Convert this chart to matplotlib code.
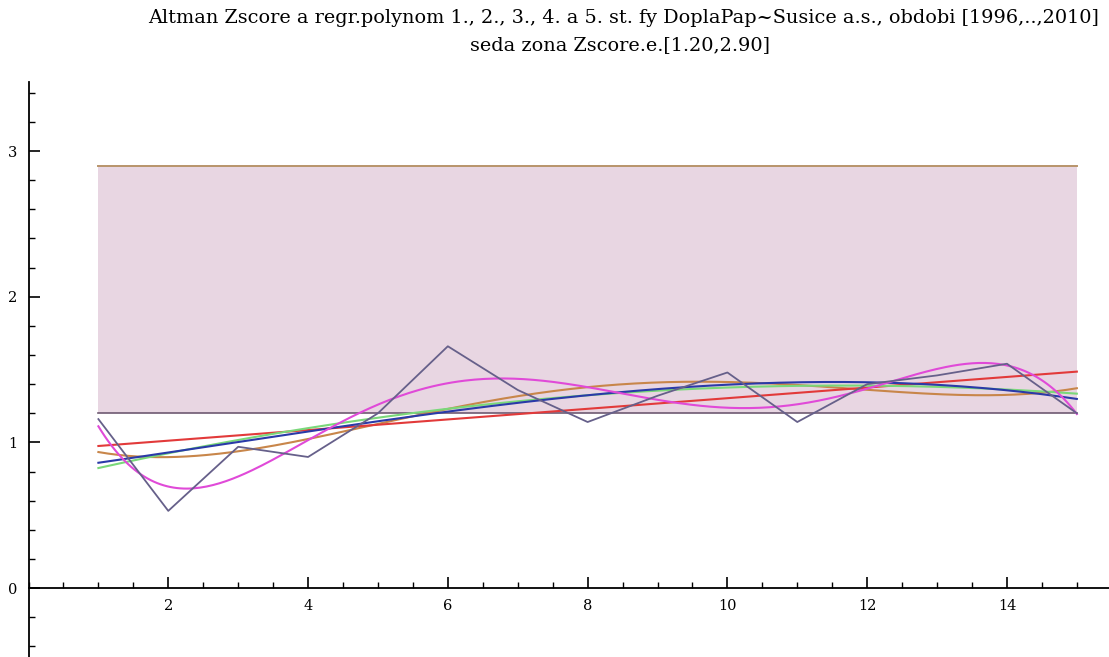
import numpy as np
import matplotlib.pyplot as plt
from matplotlib.ticker import MultipleLocator

# Altman Z-score, years 1996..2010 indexed 1..15
years_idx = np.arange(1, 16)
zscore = [1.16, 0.53, 0.97, 0.90, 1.20, 1.66, 1.36, 1.14,
          1.32, 1.48, 1.14, 1.40, 1.46, 1.54, 1.20]

grey_zone = (1.20, 2.90)
# drawing order of the regression polynomials (lowest first)
degrees = [4, 1, 2, 3, 5]
fit_colors = ['#c8864a', '#e23a3a', '#7ad87a', '#2a3aa8', '#e04ad8']

title1 = ('Altman Zscore a regr.polynom 1., 2., 3., 4. a 5. st. '
          'fy DoplaPap~Susice a.s., obdobi [1996,..,2010]')
title2 = 'seda zona Zscore.e.[1.20,2.90]'


def main():
    W, H = 1109, 657
    fig = plt.figure(figsize=(W / 100, H / 100), dpi=100)
    ax = fig.add_axes([28.5 / W, 0, 1 - 28.5 / W, 1 - 82 / H])

    ax.set_xlim(0, 15.46)
    ax.set_ylim(-0.473, 3.474)

    # grey zone band
    ax.fill_between([1, 15], grey_zone[0], grey_zone[1],
                    color='#e8d6e2', lw=0, zorder=1)
    ax.plot([1, 15], [grey_zone[1]] * 2, color='#b8946a', lw=1.4, zorder=2)
    ax.plot([1, 15], [grey_zone[0]] * 2, color='#6e5a72', lw=1.2, zorder=2)

    xs = np.linspace(1, 15, 300)
    for deg, col in zip(degrees, fit_colors):
        coef = np.polyfit(years_idx, zscore, deg)
        ax.plot(xs, np.polyval(coef, xs), color=col, lw=1.5, zorder=3)

    ax.plot(years_idx, zscore, color='#66608a', lw=1.3, zorder=4)

    # Mathematica-like axes crossing at the origin
    for s in ['top', 'right']:
        ax.spines[s].set_visible(False)
    ax.spines['left'].set_position(('data', 0))
    ax.spines['bottom'].set_position(('data', 0))
    ax.spines['left'].set_linewidth(1.3)
    ax.spines['bottom'].set_linewidth(1.3)

    ax.xaxis.set_minor_locator(MultipleLocator(0.5))
    ax.yaxis.set_minor_locator(MultipleLocator(0.2))
    ax.set_xticks([2, 4, 6, 8, 10, 12, 14])
    ax.set_yticks([0, 1, 2, 3])

    ax.tick_params(which='major', direction='in', length=8, width=1.2,
                   labelsize=10.5, pad=8)
    ax.tick_params(which='minor', direction='in', length=4, width=1)
    for lab in ax.get_xticklabels() + ax.get_yticklabels():
        lab.set_family('DejaVu Serif')

    fig.text(624 / W, 1 - 18 / H, title1, ha='center', va='center',
             family='DejaVu Serif', fontsize=13.9)
    fig.text(620 / W, 1 - 45 / H, title2, ha='center', va='center',
             family='DejaVu Serif', fontsize=13.9)

    fig.savefig('out.png', dpi=100)


if __name__ == '__main__':
    main()
